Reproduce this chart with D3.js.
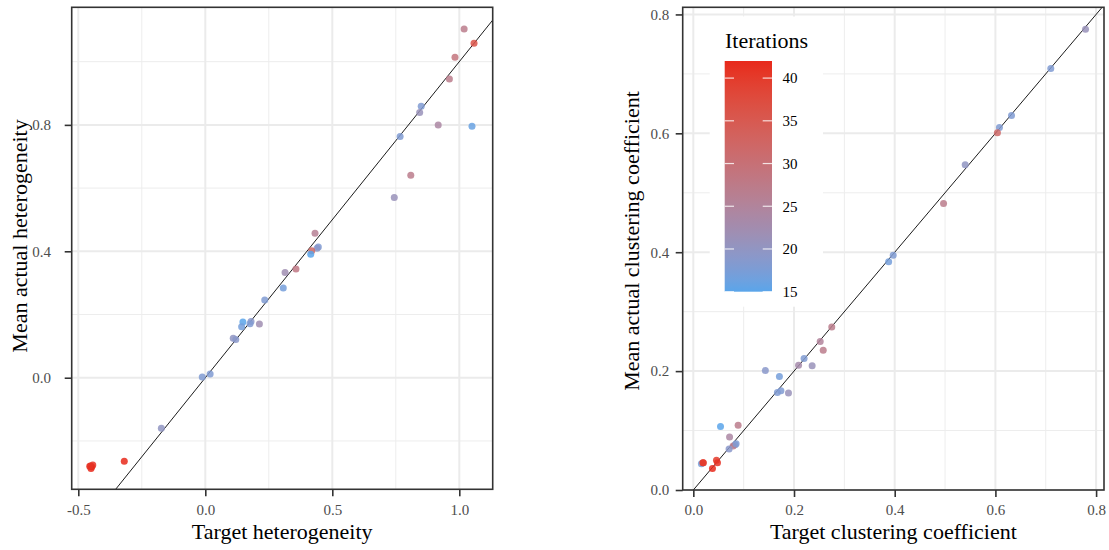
<!DOCTYPE html>
<html>
<head>
<meta charset="utf-8">
<script src="https://cdn.jsdelivr.net/npm/d3@7"></script>
<style>
  body { margin: 0; background: #fff; }
  svg { display: block; font-family: "Liberation Serif", "DejaVu Serif", serif; }
</style>
</head>
<body>
<script>
    // Heterogeneity panel data
    const heteroTarget = [1.019, 1.058, 0.983, 0.961, 0.850, 0.844, 0.917, 1.050, 0.767, 0.809, 0.744, 0.432,
      0.445, 0.440, 0.419, 0.415, 0.314, 0.357, 0.307, 0.234, 0.148, 0.143, 0.180, 0.176, 0.213, 0.110, 0.120,
      -0.012, 0.019, -0.173, -0.319, -0.452, -0.447, -0.443, -0.450, -0.455];
    const heteroActual = [1.103, 1.058, 1.014, 0.945, 0.859, 0.839, 0.800, 0.796, 0.763, 0.641, 0.570, 0.457,
      0.414, 0.410, 0.402, 0.391, 0.333, 0.344, 0.284, 0.246, 0.176, 0.161, 0.178, 0.171, 0.170, 0.125, 0.121,
      0.002, 0.012, -0.160, -0.264, -0.279, -0.282, -0.276, -0.287, -0.280];
    const heteroIter = [27, 36, 29, 27, 18, 21, 24, 16, 18, 27, 21, 26,
      18, 19, 32, 15, 22, 28, 17, 18, 15, 17, 19, 18, 22, 20, 19,
      18, 18, 20, 42, 41, 42, 41, 42, 41];

    // Clustering coefficient panel data
    const clusterTarget = [0.779, 0.710, 0.632, 0.608, 0.604, 0.540, 0.497, 0.397, 0.388, 0.275, 0.252, 0.258,
      0.220, 0.209, 0.236, 0.143, 0.171, 0.167, 0.174, 0.189, 0.054, 0.089, 0.072, 0.083, 0.079, 0.071, 0.085,
      0.016, 0.019, 0.020, 0.046, 0.048, 0.038];
    const clusterActual = [0.775, 0.709, 0.630, 0.610, 0.601, 0.547, 0.482, 0.395, 0.384, 0.274, 0.250, 0.235,
      0.221, 0.210, 0.209, 0.201, 0.191, 0.164, 0.167, 0.163, 0.107, 0.109, 0.089, 0.076, 0.074, 0.069, 0.078,
      0.044, 0.046, 0.046, 0.050, 0.046, 0.036];
    const clusterIter = [21, 18, 18, 18, 32, 20, 27, 18, 17, 27, 25, 27,
      18, 23, 21, 19, 17, 18, 18, 21, 15, 27, 24, 18, 27, 19, 18,
      17, 41, 40, 40, 41, 42];

    // Legend ticks
    const iterTicks = [15, 20, 25, 30, 35, 40];

    const width = 1109, height = 550;
    const svg = d3.select("body").append("svg")
      .attr("width", width)
      .attr("height", height);

    const color = d3.scaleLinear()
      .domain([15, 42])
      .range(["#5AA5EA", "#E8291B"])
      .interpolate(d3.interpolateLab);

    const panels = [
      {
        id: "p1", xs: heteroTarget, ys: heteroActual, it: heteroIter,
        left: 71.7, right: 492.7, top: 7.3, bottom: 489.3,
        xDomain: [-0.526, 1.1315], yDomain: [-0.353, 1.172],
        xMajor: [-0.5, 0, 0.5, 1.0], xMinor: [-0.25, 0.25, 0.75],
        yMajor: [0, 0.4, 0.8], yMinor: [-0.2, 0.2, 0.6, 1.0],
        xTitle: "Target heterogeneity", yTitle: "Mean actual heterogeneity",
        yPad: 13.7, xPad: 8, yTitleX: 27, yTitleY: 236
      },
      {
        id: "p2", xs: clusterTarget, ys: clusterActual, it: clusterIter,
        left: 682.7, right: 1104, top: 7.3, bottom: 490,
        xDomain: [-0.0211, 0.8157], yDomain: [0, 0.812],
        xMajor: [0, 0.2, 0.4, 0.6, 0.8], xMinor: [0.1, 0.3, 0.5, 0.7],
        yMajor: [0, 0.2, 0.4, 0.6, 0.8], yMinor: [0.1, 0.3, 0.5, 0.7],
        xTitle: "Target clustering coefficient", yTitle: "Mean actual clustering coefficient",
        yPad: 6.4, xPad: 7.4, yTitleX: 639, yTitleY: 241
      }
    ];

    panels.forEach(p => {
      const x = d3.scaleLinear().domain(p.xDomain).range([p.left, p.right]);
      const y = d3.scaleLinear().domain(p.yDomain).range([p.bottom, p.top]);
      const g = svg.append("g");

      // gridlines
      g.selectAll(".vmin").data(p.xMinor).enter().append("line")
        .attr("x1", d => x(d)).attr("x2", d => x(d))
        .attr("y1", p.top).attr("y2", p.bottom)
        .attr("stroke", "#EDEDED").attr("stroke-width", 1);
      g.selectAll(".hmin").data(p.yMinor).enter().append("line")
        .attr("y1", d => y(d)).attr("y2", d => y(d))
        .attr("x1", p.left).attr("x2", p.right)
        .attr("stroke", "#EDEDED").attr("stroke-width", 1);
      g.selectAll(".vmaj").data(p.xMajor).enter().append("line")
        .attr("x1", d => x(d)).attr("x2", d => x(d))
        .attr("y1", p.top).attr("y2", p.bottom)
        .attr("stroke", "#EBEBEB").attr("stroke-width", 2);
      g.selectAll(".hmaj").data(p.yMajor).enter().append("line")
        .attr("y1", d => y(d)).attr("y2", d => y(d))
        .attr("x1", p.left).attr("x2", p.right)
        .attr("stroke", "#EBEBEB").attr("stroke-width", 2);

      // y = x reference line, clipped to the panel
      svg.append("clipPath").attr("id", "clip-" + p.id)
        .append("rect")
        .attr("x", p.left).attr("y", p.top)
        .attr("width", p.right - p.left).attr("height", p.bottom - p.top);
      const lo = Math.min(p.xDomain[0], p.yDomain[0]) - 1;
      const hi = Math.max(p.xDomain[1], p.yDomain[1]) + 1;
      g.append("line")
        .attr("clip-path", `url(#clip-${p.id})`)
        .attr("x1", x(lo)).attr("y1", y(lo))
        .attr("x2", x(hi)).attr("y2", y(hi))
        .attr("stroke", "#000").attr("stroke-width", 0.9);

      // points
      g.selectAll("circle").data(p.xs.map((v, i) => ({ x: v, y: p.ys[i], it: p.it[i] })))
        .enter().append("circle")
        .attr("cx", d => x(d.x)).attr("cy", d => y(d.y))
        .attr("r", 3.5)
        .attr("fill", d => color(d.it))
        .attr("fill-opacity", 0.85);

      // panel border
      g.append("rect")
        .attr("x", p.left).attr("y", p.top)
        .attr("width", p.right - p.left).attr("height", p.bottom - p.top)
        .attr("fill", "none").attr("stroke", "#333").attr("stroke-width", 1.6);

      // axes
      const fmt = v => v.toFixed(1);
      const xAxis = g.append("g").attr("transform", `translate(0,${p.bottom})`)
        .call(d3.axisBottom(x).tickValues(p.xMajor).tickFormat(fmt).tickSize(7).tickPadding(p.xPad));
      const yAxis = g.append("g").attr("transform", `translate(${p.left},0)`)
        .call(d3.axisLeft(y).tickValues(p.yMajor).tickFormat(fmt).tickSize(7).tickPadding(p.yPad));
      [xAxis, yAxis].forEach(a => {
        a.select(".domain").remove();
        a.selectAll("line").attr("stroke", "#333").attr("stroke-width", 1.6);
        a.selectAll("text").attr("fill", "#4D4D4D").style("font-size", "15px")
          .style("font-family", "'Liberation Serif', serif");
      });

      // titles
      svg.append("text")
        .attr("x", (p.left + p.right) / 2).attr("y", 539)
        .attr("text-anchor", "middle")
        .style("font-size", "22px")
        .text(p.xTitle);
      svg.append("text")
        .attr("transform", `translate(${p.yTitleX},${p.yTitleY}) rotate(-90)`)
        .attr("text-anchor", "middle")
        .style("font-size", "22px")
        .text(p.yTitle);
    });

    // Colour bar legend inside the right panel
    const legend = svg.append("g");
    legend.append("rect")
      .attr("x", 709.7).attr("y", 16.5)
      .attr("width", 113.3).attr("height", 290.2)
      .attr("fill", "#fff");
    legend.append("text")
      .attr("x", 725).attr("y", 48)
      .style("font-size", "22px")
      .text("Iterations");

    const barY = d3.scaleLinear().domain([15, 42]).range([291.7, 61]);
    const grad = svg.append("defs").append("linearGradient")
      .attr("id", "iterGrad")
      .attr("x1", 0).attr("y1", 1).attr("x2", 0).attr("y2", 0);
    d3.range(0, 1.0001, 0.05).forEach(t => {
      grad.append("stop")
        .attr("offset", t)
        .attr("stop-color", color(15 + t * 27));
    });
    legend.append("rect")
      .attr("x", 724.7).attr("y", barY(42))
      .attr("width", 47.3).attr("height", barY(15) - barY(42))
      .attr("fill", "url(#iterGrad)");
    iterTicks.forEach(v => {
      [[724.7, 734], [762.7, 772]].forEach(([a, b]) => {
        legend.append("line")
          .attr("x1", a).attr("x2", b)
          .attr("y1", barY(v)).attr("y2", barY(v))
          .attr("stroke", "#fff").attr("stroke-opacity", 0.8).attr("stroke-width", 1.2);
      });
    });
    legend.selectAll(".lab").data(iterTicks).enter().append("text")
      .attr("x", 782.5).attr("y", d => barY(d))
      .attr("dy", "0.35em")
      .style("font-size", "15px")
      .text(d => d);
</script>
</body>
</html>
